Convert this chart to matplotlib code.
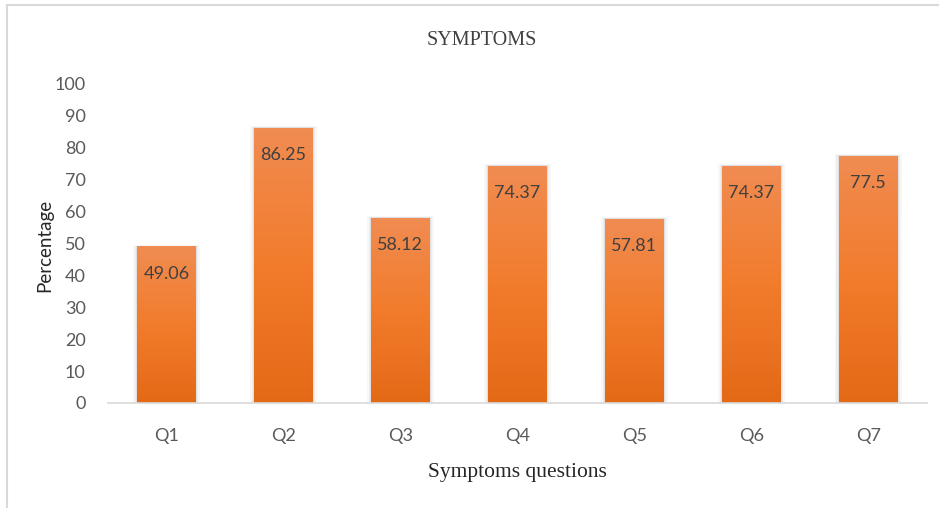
import numpy as np
import matplotlib.pyplot as plt
from matplotlib.colors import LinearSegmentedColormap
from matplotlib.lines import Line2D

questions = ["Q1", "Q2", "Q3", "Q4", "Q5", "Q6", "Q7"]
percent = [49.06, 86.25, 58.12, 74.37, 57.81, 74.37, 77.5]
yticks = [0, 10, 20, 30, 40, 50, 60, 70, 80, 90, 100]

# orange gradient, light at the top, dark at the bottom
grad = LinearSegmentedColormap.from_list("orange", ["#E46917", "#F27C2C", "#F08C52"])

fig = plt.figure(figsize=(9.39, 5.08), dpi=100)
ax = fig.add_axes([0.115, 0.2067, 0.872, 0.628])

x = np.arange(len(questions))
width = 0.5
bars = ax.bar(x, percent, width=width, color="none", zorder=2)
fill = np.linspace(0, 1, 256).reshape(-1, 1)
for b, v in zip(bars, percent):
    x0 = b.get_x()
    # soft shadow behind the bar
    for k, a in [(0.035, 0.05), (0.022, 0.07), (0.011, 0.10)]:
        ax.bar(b.get_x() + width / 2, v + k * 12, width=width + 2 * k, bottom=0,
               color="#707070", alpha=a, linewidth=0, zorder=1.5)
    im = ax.imshow(fill, cmap=grad, origin="lower", aspect="auto",
                   extent=[x0, x0 + width, 0, v], zorder=2)
    im.set_clip_path(b)
    ax.text(x0 + width / 2, v - 8.5, f"{v:g}", ha="center", va="center",
            fontsize=13, color="#404040", family="Lato", zorder=3)

ax.set_xlim(-0.5, len(questions) - 0.5)
ax.set_ylim(0, 100)
ax.set_yticks(yticks)
ax.set_xticks(x)
ax.set_xticklabels(questions)
for lab in ax.get_xticklabels() + ax.get_yticklabels():
    lab.set_family("Lato")
    lab.set_fontsize(13)
    lab.set_color("#595959")
ax.tick_params(axis="x", length=0, pad=18)
ax.tick_params(axis="y", length=0, pad=16)
for s in ["top", "right", "left"]:
    ax.spines[s].set_visible(False)
ax.spines["bottom"].set_color("#D9D9D9")
ax.spines["bottom"].set_linewidth(1.2)

ax.set_ylabel("Percentage", fontsize=13.5, family="Lato", color="#262626")
ax.yaxis.set_label_coords(-0.077, 0.495)
ax.yaxis.label.set_va("center")
ax.set_xlabel("Symptoms questions", fontsize=15.5, family="Liberation Serif", color="#262626", labelpad=14)
fig.text(0.513, 0.92, "SYMPTOMS", ha="center", va="center", fontsize=14.5,
         family="Liberation Serif", color="#404040")

# light frame around the chart area
fig.add_artist(Line2D([0.0075, 0.0075], [0, 0.99], color="#D9D9D9", lw=1.5))
fig.add_artist(Line2D([0.0075, 1], [0.99, 0.99], color="#D9D9D9", lw=1.5))

fig.savefig("out.png", dpi=100)
